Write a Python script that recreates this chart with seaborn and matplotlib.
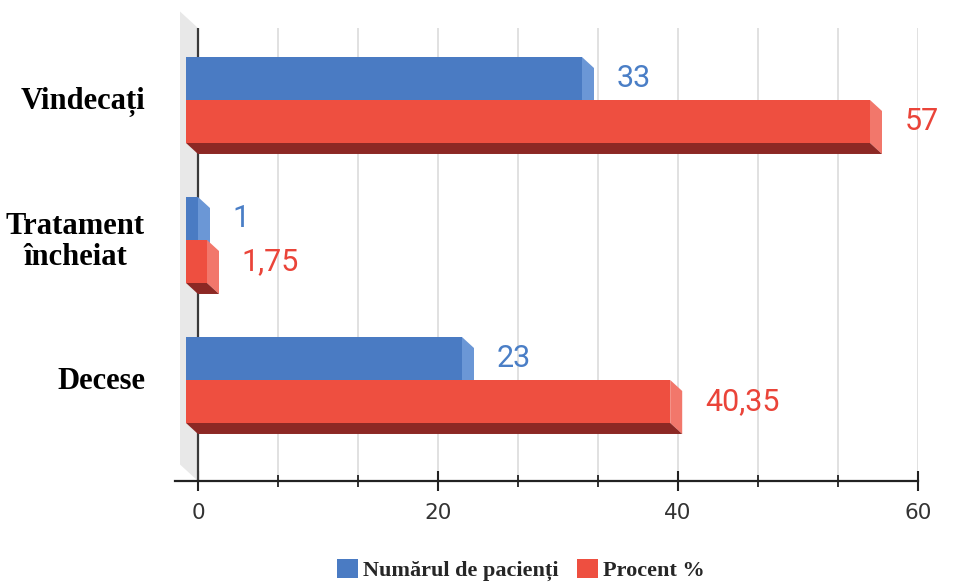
import numpy as np
import pandas as pd
import matplotlib
matplotlib.use("Agg")
import matplotlib.pyplot as plt
import matplotlib.transforms as mtransforms
from matplotlib.patches import Polygon, Patch
from matplotlib.ticker import MultipleLocator
import seaborn as sns

# ---- data ----
categories = ["Vindecați", "Tratament\nîncheiat", "Decese"]
series_names = ["Numărul de pacienți", "Procent %"]
patients = [33, 1, 23]
percent = [57, 1.75, 40.35]
xticks = [0, 20, 40, 60]

front_colors = ["#4a7bc3", "#ee4f40"]
side_colors = ["#6b97d6", "#f2776b"]
bottom_colors = ["#2f5596", "#8c2824"]
text_colors = ["#4a7ec6", "#ea4439"]

df = pd.DataFrame({
    "cat": categories * 2,
    "series": [series_names[0]] * 3 + [series_names[1]] * 3,
    "value": patients + percent,
})

sns.set_style("white")
fig = plt.figure(figsize=(9.54, 5.85), dpi=100)
ax = fig.add_axes([175 / 954, 1 - 481 / 585, (918 - 175) / 954, (481 - 28) / 585])

sns.barplot(data=df, x="value", y="cat", hue="series", orient="h",
            order=categories, hue_order=series_names,
            palette=front_colors, saturation=1, width=0.614,
            edgecolor="none", linewidth=0, legend=False, ax=ax)

ax.set_xlim(-23 / 12, 60)
ax.set_ylim((481 - 111) / 140, (28 - 111) / 140)

DX = -1.0          # depth offset (data units, x)
DY = -11 / 140     # depth offset (data units, y, upward)

for j, cont in enumerate(ax.containers):
    base_z = 3 + 3 * j
    for k, bar in enumerate(cont):
        x0, y0 = bar.get_x(), bar.get_y()
        w, h = bar.get_width(), bar.get_height()
        x1 = x0 + w
        ytop, ybot = y0, y0 + h
        side = Polygon([(x1 + DX, ytop + DY), (x1, ytop), (x1, ybot), (x1 + DX, ybot + DY)],
                       closed=True, facecolor=side_colors[j], edgecolor="none", zorder=base_z)
        ax.add_patch(side)
        bottom = Polygon([(x0 + DX, ybot + DY), (x1 + DX, ybot + DY), (x1, ybot), (x0, ybot)],
                         closed=True, facecolor=bottom_colors[j], edgecolor="none", zorder=base_z)
        ax.add_patch(bottom)
        bar.set_x(x0 + DX)
        bar.set_y(y0 + DY)
        bar.set_zorder(base_z + 1)
        v = w
        lab = f"{v:g}".replace(".", ",")
        ax.text(v + 1.9, y0 + DY + h / 2, lab, color=text_colors[j], fontsize=22,
                family=["Roboto", "DejaVu Sans"], ha="left", va="center", zorder=10)

# grey side wall
y_lo, y_hi = ax.get_ylim()
k = 1.5
wall = Polygon([(DX * k, y_hi + DY * k), (0, y_hi), (0, y_lo), (DX * k, y_lo + DY * k)],
               closed=True, facecolor="#e8e8e8", edgecolor="none", zorder=1, clip_on=False)
ax.add_patch(wall)

# grid + axes styling
ax.xaxis.set_major_locator(MultipleLocator(20))
ax.xaxis.set_minor_locator(MultipleLocator(20 / 3))
ax.grid(False)
ax.grid(True, which="both", axis="x", color="#dcdcdc", linewidth=1.2, zorder=0)
ax.set_axisbelow(True)
ax.axvline(0, color="#3a3a3a", linewidth=1.6, zorder=2)

for s in ["top", "right", "left"]:
    ax.spines[s].set_visible(False)
ax.spines["bottom"].set_color("#222222")
ax.spines["bottom"].set_linewidth(1.6)
ax.spines["bottom"].set_zorder(12)

ax.set_xticks(xticks)
ax.tick_params(axis="x", which="major", bottom=True, direction="inout", length=14.4, width=1.5,
               color="#222222", pad=8.6, labelsize=15.5, labelcolor="#333333")
ax.tick_params(axis="x", which="minor", bottom=True, direction="inout", length=8, width=1.3,
               color="#222222")
for t in ax.get_xticklabels():
    t.set_fontfamily(["Liberation Sans Narrow", "DejaVu Sans"])

ax.set_xlabel("")
ax.set_ylabel("")
ax.set_yticks([])

# category labels
trans = mtransforms.blended_transform_factory(ax.transAxes, ax.transData) + \
    mtransforms.ScaledTranslation(-0.30, 0.09, fig.dpi_scale_trans)
for i, cat in enumerate(categories):
    ax.text(0, i, cat, transform=trans, ha="right", va="center",
            multialignment="center", linespacing=1.05, fontsize=22, fontweight="bold",
            family=["Liberation Serif", "DejaVu Serif"], color="black", clip_on=False)

handles = [Patch(facecolor=c, edgecolor="none") for c in front_colors]
fig.legend(handles, series_names, loc="center", bbox_to_anchor=(0.546, 0.026), ncol=2,
           frameon=False, handlelength=0.95, handleheight=0.95, handletextpad=0.25,
           columnspacing=0.8,
           prop={"family": ["Liberation Serif", "DejaVu Serif"], "weight": "bold", "size": 16})

fig.savefig("out.png", dpi=100, facecolor="white")
